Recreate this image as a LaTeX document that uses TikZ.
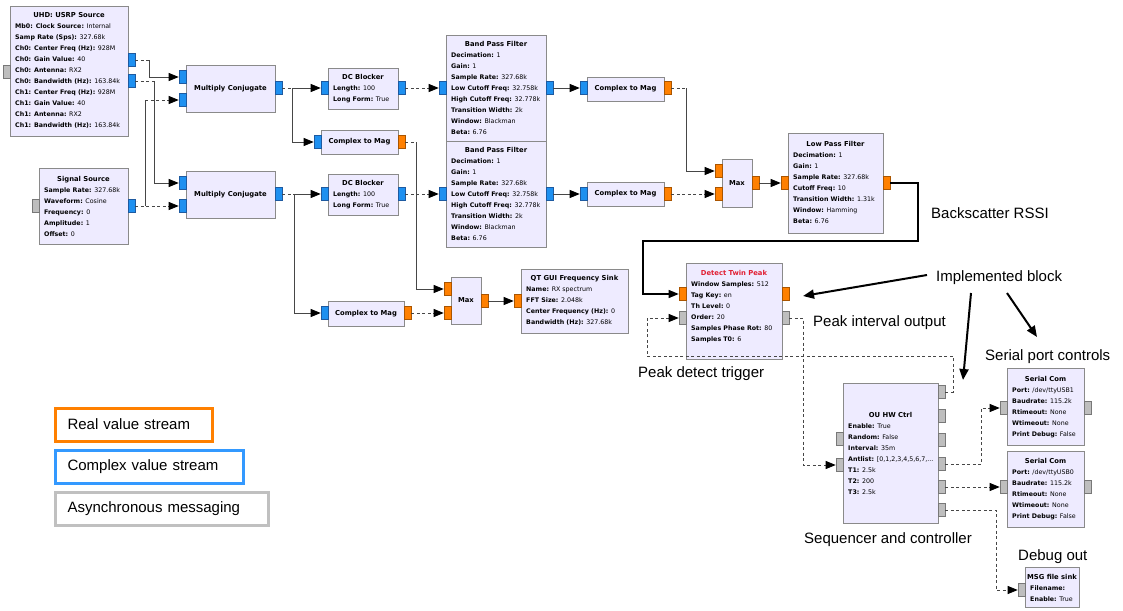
\documentclass[tikz,border=0pt]{standalone}
\usepackage{fontspec}
\setmainfont{Liberation Sans}
\newfontfamily\grfont{DejaVu Sans}
\usetikzlibrary{arrows.meta}

\definecolor{blkfill}{RGB}{238,235,255}
\definecolor{blkline}{RGB}{138,138,138}
\definecolor{cplx}{RGB}{30,144,240}
\definecolor{cplxd}{RGB}{30,90,160}
\definecolor{realc}{RGB}{255,128,0}
\definecolor{reald}{RGB}{170,85,0}
\definecolor{msgc}{RGB}{190,190,190}
\definecolor{msgd}{RGB}{120,120,120}
\definecolor{wirec}{RGB}{70,70,70}
\definecolor{ttlred}{RGB}{225,30,50}
\definecolor{legblue}{RGB}{51,153,255}
\definecolor{leggray}{RGB}{192,192,192}

\tikzset{
  blk/.style={draw=blkline, fill=blkfill, line width=0.8pt, inner sep=0pt},
  ttl/.style={font=\grfont\bfseries\fontsize{6.8}{8}\selectfont, inner sep=0pt},
  prm/.style={font=\grfont\fontsize{6.3}{11}\selectfont, inner sep=0pt, align=left},
  port/.style={minimum width=7pt, minimum height=13pt, inner sep=0pt, line width=0.6pt},
  cport/.style={port, fill=cplx, draw=cplxd},
  rport/.style={port, fill=realc, draw=reald},
  mport/.style={port, fill=msgc, draw=msgd},
  wire/.style={draw=wirec, line width=0.8pt},
  dwire/.style={wire, dash pattern=on 3pt off 2.5pt},
  rwire/.style={draw=black, line width=1.1pt},
  arr/.style={-{Triangle[length=10pt,width=8pt,color=black]}},
  note/.style={font=\fontsize{15}{18}\selectfont, inner sep=0pt},
  callout/.style={line width=2pt, -{Triangle[length=11pt,width=9pt]}},
  legend/.style={line width=3pt, inner xsep=12pt, inner ysep=0pt, minimum height=33pt,
    align=left, font=\fontsize{15}{18}\selectfont, anchor=west, fill=white},
}

% block with title and parameter list: name, left, top, right, bottom, title y, title, params
\newcommand\grblk[8]{%
  \node[blk, minimum width={#4-#2}, minimum height={#5-#3}] (#1) at ({(#2+#4)/2},{(#3+#5)/2}) {};
  \node[ttl, anchor=base] (#1-t) at ({(#2+#4)/2},{#6+2.5}) {#7};
  \node[prm, anchor=north west] (#1-p) at ({#2+5},{#6+8.7}) {\rule{0pt}{5pt}#8};
}
% block with a single centred label
\newcommand\grsimple[6]{%
  \node[blk, ttl, minimum width={#4-#2}, minimum height={#5-#3}] (#1) at ({(#2+#4)/2},{(#3+#5)/2}) {#6};
}
\newcommand\grport[4]{\node[#4] (#1) at (#2,#3) {};}
\newcommand\kv[2]{\textbf{#1:} #2}

\begin{document}
\begin{tikzpicture}[x=1pt,y=-1pt]
\useasboundingbox[fill=white] (0,0) rectangle (1123,610);

% ---------- sources ----------
\grblk{usrp}{10}{6}{128}{136}{15}{UHD: USRP Source}{%
  \kv{Mb0: Clock Source}{Internal}\\
  \kv{Samp Rate (Sps)}{327.68k}\\
  \kv{Ch0: Center Freq (Hz)}{928M}\\
  \kv{Ch0: Gain Value}{40}\\
  \kv{Ch0: Antenna}{RX2}\\
  \kv{Ch0: Bandwidth (Hz)}{163.84k}\\
  \kv{Ch1: Center Freq (Hz)}{928M}\\
  \kv{Ch1: Gain Value}{40}\\
  \kv{Ch1: Antenna}{RX2}\\
  \kv{Ch1: Bandwidth (Hz)}{163.84k}}
\grport{usrp-m}{6.5}{72}{mport}
\grport{usrp-o1}{131.5}{60}{cport}
\grport{usrp-o2}{131.5}{81}{cport}

\grblk{sig}{39}{168}{128}{244}{179}{Signal Source}{%
  \kv{Sample Rate}{327.68k}\\
  \kv{Waveform}{Cosine}\\
  \kv{Frequency}{0}\\
  \kv{Amplitude}{1}\\
  \kv{Offset}{0}}
\grport{sig-m}{35.5}{206}{mport}
\grport{sig-o}{131.5}{206}{cport}

% ---------- mixing ----------
\grsimple{mc1}{186}{65}{275}{112}{Multiply Conjugate}
\grport{mc1-i1}{182.5}{77}{cport}
\grport{mc1-i2}{182.5}{100}{cport}
\grport{mc1-o}{278.5}{88}{cport}

\grsimple{mc2}{186}{171}{275}{218}{Multiply Conjugate}
\grport{mc2-i1}{182.5}{183}{cport}
\grport{mc2-i2}{182.5}{206}{cport}
\grport{mc2-o}{278.5}{194}{cport}

% ---------- DC blockers and magnitude taps ----------
\grblk{dc1}{328}{68}{398}{109}{77}{DC Blocker}{%
  \kv{Length}{100}\\
  \kv{Long Form}{True}}
\grport{dc1-i}{324.5}{88}{cport}
\grport{dc1-o}{401.5}{88}{cport}

\grsimple{ctm1}{321}{130}{398}{154}{Complex to Mag}
\grport{ctm1-i}{317.5}{142}{cport}
\grport{ctm1-o}{401.5}{142}{rport}

\grblk{dc2}{328}{174}{398}{215}{183}{DC Blocker}{%
  \kv{Length}{100}\\
  \kv{Long Form}{True}}
\grport{dc2-i}{324.5}{194}{cport}
\grport{dc2-o}{401.5}{194}{cport}

\grsimple{ctm3}{328}{301}{404}{326}{Complex to Mag}
\grport{ctm3-i}{324.5}{313}{cport}
\grport{ctm3-o}{407.5}{313}{rport}

% ---------- band pass filters ----------
\grblk{bpf1}{446}{35}{546}{141}{44}{Band Pass Filter}{%
  \kv{Decimation}{1}\\
  \kv{Gain}{1}\\
  \kv{Sample Rate}{327.68k}\\
  \kv{Low Cutoff Freq}{32.758k}\\
  \kv{High Cutoff Freq}{32.778k}\\
  \kv{Transition Width}{2k}\\
  \kv{Window}{Blackman}\\
  \kv{Beta}{6.76}}
\grport{bpf1-i}{442.5}{88}{cport}
\grport{bpf1-o}{549.5}{88}{cport}

\grblk{bpf2}{446}{141}{546}{247}{150}{Band Pass Filter}{%
  \kv{Decimation}{1}\\
  \kv{Gain}{1}\\
  \kv{Sample Rate}{327.68k}\\
  \kv{Low Cutoff Freq}{32.758k}\\
  \kv{High Cutoff Freq}{32.778k}\\
  \kv{Transition Width}{2k}\\
  \kv{Window}{Blackman}\\
  \kv{Beta}{6.76}}
\grport{bpf2-i}{442.5}{194}{cport}
\grport{bpf2-o}{549.5}{194}{cport}

% ---------- magnitude, max, low pass ----------
\grsimple{ctm2}{587}{77}{664}{101}{Complex to Mag}
\grport{ctm2-i}{583.5}{88}{cport}
\grport{ctm2-o}{667.5}{88}{rport}

\grsimple{ctm4}{587}{182}{664}{206}{Complex to Mag}
\grport{ctm4-i}{583.5}{194}{cport}
\grport{ctm4-o}{667.5}{194}{rport}

\grsimple{max1}{722}{159}{752}{207}{Max}
\grport{max1-i1}{718.5}{171}{rport}
\grport{max1-i2}{718.5}{194}{rport}
\grport{max1-o}{755.5}{183}{rport}

\grblk{lpf}{788}{133}{883}{233}{144}{Low Pass Filter}{%
  \kv{Decimation}{1}\\
  \kv{Gain}{1}\\
  \kv{Sample Rate}{327.68k}\\
  \kv{Cutoff Freq}{10}\\
  \kv{Transition Width}{1.31k}\\
  \kv{Window}{Hamming}\\
  \kv{Beta}{6.76}}
\grport{lpf-i}{784.5}{183}{rport}
\grport{lpf-o}{886.5}{183}{rport}

\grsimple{max2}{451}{277}{481}{324}{Max}
\grport{max2-i1}{447.5}{289}{rport}
\grport{max2-i2}{447.5}{313}{rport}
\grport{max2-o}{484.5}{301}{rport}

\grblk{qt}{521}{269}{628}{333}{278}{QT GUI Frequency Sink}{%
  \kv{Name}{RX spectrum}\\
  \kv{FFT Size}{2.048k}\\
  \kv{Center Frequency (Hz)}{0}\\
  \kv{Bandwidth (Hz)}{327.68k}}
\grport{qt-i}{517.5}{301}{rport}

% ---------- peak detection and control ----------
\grblk{dtp}{686}{263}{782}{359}{273}{\textcolor{ttlred}{Detect Twin Peak}}{%
  \kv{Window Samples}{512}\\
  \kv{Tag Key}{en}\\
  \kv{Th Level}{0}\\
  \kv{Order}{20}\\
  \kv{Samples Phase Rot}{80}\\
  \kv{Samples T0}{6}}
\grport{dtp-i1}{682.5}{294}{rport}
\grport{dtp-i2}{682.5}{318}{mport}
\grport{dtp-o1}{785.5}{294}{rport}
\grport{dtp-o2}{785.5}{318}{mport}

\grblk{ou}{843}{383}{938}{523}{415}{OU HW Ctrl}{%
  \kv{Enable}{True}\\
  \kv{Random}{False}\\
  \kv{Interval}{35m}\\
  \kv{Antlist}{[0,1,2,3,4,5,6,7,...}\\
  \kv{T1}{2.5k}\\
  \kv{T2}{200}\\
  \kv{T3}{2.5k}}
\grport{ou-l1}{839.5}{439}{mport}
\grport{ou-l2}{839.5}{465}{mport}
\grport{ou-r1}{941.5}{392}{mport}
\grport{ou-r2}{941.5}{416}{mport}
\grport{ou-r3}{941.5}{440}{mport}
\grport{ou-r4}{941.5}{464}{mport}
\grport{ou-r5}{941.5}{487}{mport}
\grport{ou-r6}{941.5}{510}{mport}

\grblk{ser1}{1007}{368}{1084}{445}{379}{Serial Com}{%
  \kv{Port}{/dev/ttyUSB1}\\
  \kv{Baudrate}{115.2k}\\
  \kv{Rtimeout}{None}\\
  \kv{Wtimeout}{None}\\
  \kv{Print Debug}{False}}
\grport{ser1-i}{1003.5}{408}{mport}
\grport{ser1-o}{1087.5}{408}{mport}

\grblk{ser2}{1007}{451}{1084}{527}{461}{Serial Com}{%
  \kv{Port}{/dev/ttyUSB0}\\
  \kv{Baudrate}{115.2k}\\
  \kv{Rtimeout}{None}\\
  \kv{Wtimeout}{None}\\
  \kv{Print Debug}{False}}
\grport{ser2-i}{1003.5}{487}{mport}
\grport{ser2-o}{1087.5}{487}{mport}

\grblk{msg}{1025}{567}{1079}{607}{577}{MSG file sink}{%
  \kv{Filename}{}\\
  \kv{Enable}{True}}
\grport{msg-i}{1021.5}{590}{mport}

% ---------- stream connections ----------
\draw[dwire] (usrp-o1.east) -- ++(14,0) coordinate (k1);
\draw[wire,arr] (k1) |- (mc1-i1.west);
\draw[dwire] (usrp-o2.east) -- ++(19,0) coordinate (k2);
\draw[wire,arr] (k2) |- (mc2-i1.west);
\draw[dwire,arr] (sig-o.east) -- (mc2-i2.west);
\path (sig-o.east) ++(10,0) coordinate (k3);
\draw[wire] (k3) -- (k3 |- mc1-i2.west) coordinate (k4);
\draw[dwire,arr] (k4) -- (mc1-i2.west);

\draw[dwire] (mc1-o.east) -- ++(10,0) coordinate (k5);
\draw[wire,arr] (k5) -- (dc1-i.west);
\draw[wire,arr] (k5) |- (ctm1-i.west);
\draw[dwire] (mc2-o.east) -- ++(12,0) coordinate (k6);
\draw[wire,arr] (k6) -- (dc2-i.west);
\draw[wire,arr] (k6) |- (ctm3-i.west);

\draw[dwire,arr] (dc1-o.east) -- (bpf1-i.west);
\draw[dwire,arr] (dc2-o.east) -- (bpf2-i.west);
\draw[wire,arr] (bpf1-o.east) -- (ctm2-i.west);
\draw[wire,arr] (bpf2-o.east) -- (ctm4-i.west);

\draw[dwire] (ctm1-o.east) -- ++(11,0) coordinate (k7);
\draw[wire,arr] (k7) |- (max2-i1.west);
\draw[dwire,arr] (ctm3-o.east) -- (max2-i2.west);
\draw[dwire] (ctm2-o.east) -- ++(15,0) coordinate (k8);
\draw[wire,arr] (k8) |- (max1-i1.west);
\draw[dwire,arr] (ctm4-o.east) -- (max1-i2.west);
\draw[wire,arr] (max1-o.east) -- (lpf-i.west);
\draw[wire,arr] (max2-o.east) -- (qt-i.west);

% RSSI loop back into the peak detector
\coordinate (r1) at (918,241);
\coordinate (r2) at (643,241);
\draw[rwire,arr] (lpf-o.east) -| (r1) -- (r2) |- (dtp-i1.west);

% ---------- message connections ----------
\coordinate (t1) at (953,356);
\coordinate (t2) at (647,356);
\draw[dwire,arr] (ou-r1.east) -| (t1) -- (t2) |- (dtp-i2.west);
\draw[dwire,arr] (dtp-o2.east) -- ++(14,0) |- (ou-l2.west);
\draw[dwire,arr] (ou-r4.east) -- ++(36,0) |- (ser1-i.west);
\draw[dwire,arr] (ou-r5.east) -- (ser2-i.west);
\draw[dwire,arr] (ou-r6.east) -- ++(51,0) |- (msg-i.west);

% ---------- annotations ----------
\node[note, anchor=base west] (n-rssi) at (931,218.5) {Backscatter RSSI};
\node[note, anchor=base west] (n-impl) at (936,281.5) {Implemented block};
\node[note, anchor=base west] (n-pio) at (813,326.5) {Peak interval output};
\node[note, anchor=base west] (n-pdt) at (638,377.5) {Peak detect trigger};
\node[note, anchor=base west] (n-spc) at (985,360.5) {Serial port controls};
\node[note, anchor=base west] (n-seq) at (804,543.5) {Sequencer and controller};
\node[note, anchor=base west] (n-dbg) at (1018,560.5) {Debug out};

\coordinate (c1s) at (927,275);  \coordinate (c1e) at (803,296);
\coordinate (c2s) at (971,293);  \coordinate (c2e) at (963,380);
\coordinate (c3s) at (1007,293); \coordinate (c3e) at (1037,337);
\draw[callout] (c1s) -- (c1e);
\draw[callout] (c2s) -- (c2e);
\draw[callout] (c3s) -- (c3e);

% ---------- legend ----------
\node[legend, draw=realc, text width=133pt] (lg-real) at (54,424.5) {Real value stream};
\node[legend, draw=legblue, text width=164pt] (lg-cplx) at (54,467) {Complex value stream};
\node[legend, draw=leggray, text width=189pt] (lg-msg) at (54,509) {Asynchronous messaging};

\end{tikzpicture}
\end{document}
